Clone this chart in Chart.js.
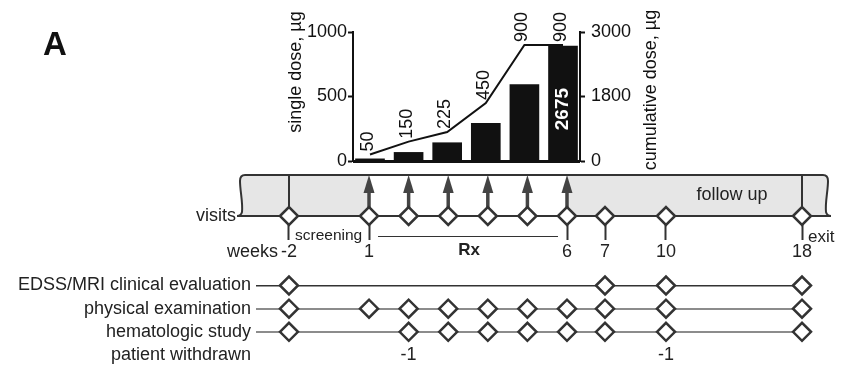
<!DOCTYPE html>
<html>
<head>
<meta charset="utf-8">
<script src="https://cdn.jsdelivr.net/npm/chart.js@4.4.1/dist/chart.umd.min.js"></script>
<style>
  html, body { margin: 0; padding: 0; background: #fff; }
  #wrap { position: relative; width: 847px; height: 375px; }
  #wrap canvas { position: absolute; left: 0; top: 0; }
</style>
</head>
<body>
<div id="wrap">
  <canvas id="timeline" width="847" height="375"></canvas>
  <canvas id="dose" width="847" height="375"></canvas>
</div>
<script>
// dose escalation (top panel)
const doseWeeks = [1, 2, 3, 4, 5, 6];
const singleDose = [50, 150, 225, 450, 900, 900];
const cumulativeDose = [50, 200, 425, 875, 1775, 2675];
const singleTicks = [0, 500, 1000];
const cumulativeTicks = [0, 1500, 3000];
const cumulativeTickLabels = ['0', '1800', '3000'];

// study schedule (bottom panel)
const visitWeeks = [-2, 1, 2, 3, 4, 5, 6, 7, 10, 18];
const edssWeeks = [-2, 7, 10, 18];
const physicalWeeks = [-2, 1, 2, 3, 4, 5, 6, 7, 10, 18];
const hematologyWeeks = [-2, 2, 3, 4, 5, 6, 7, 10, 18];
const withdrawnWeeks = [2, 10];
const withdrawnCounts = [-1, -1];
const weekTicks = [-2, 1, 6, 7, 10, 18];
const rowLabels = ['visits', '', '', 'EDSS/MRI clinical evaluation', 'physical examination', 'hematologic study', 'patient withdrawn'];

const FONT = '"Liberation Sans", Arial, sans-serif';
Chart.defaults.font.family = FONT;
Chart.defaults.color = '#222';

// the week axis is compressed outside the treatment period, so map it piecewise
const timelineStops = [[-2, 0.0604], [1, 0.207], [6, 0.5696], [7, 0.6392], [10, 0.7509], [18, 1]];

class TimelineScale extends Chart.LinearScale {
  getPixelForValue(value) {
    if (value === null || value === undefined || isNaN(value)) return NaN;
    let i = 0;
    while (i < timelineStops.length - 2 && value > timelineStops[i + 1][0]) i++;
    const [w0, d0] = timelineStops[i];
    const [w1, d1] = timelineStops[i + 1];
    return this.getPixelForDecimal(d0 + (value - w0) / (w1 - w0) * (d1 - d0));
  }
}
TimelineScale.id = 'timeline';
TimelineScale.defaults = Chart.LinearScale.defaults;
Chart.register(TimelineScale);

function row(weeks, r) {
  return {
    data: weeks.map((w) => ({ x: w, y: r })),
    pointStyle: 'rectRot',
    pointRadius: 9,
    pointHoverRadius: 9,
    pointBorderWidth: 2.5,
    pointBorderColor: '#333',
    pointBackgroundColor: '#fff',
    clip: false,
  };
}

function edgePath(ctx, x0, top, base, dir) {
  // wavy cut edge of the band, dir = 1 on the left, -1 on the right
  ctx.lineTo(x0 + 4 * dir, top);
  ctx.quadraticCurveTo(x0 - dir, top, x0 - dir, top + 6);
  ctx.bezierCurveTo(x0 - dir, top + 16, x0 + 2 * dir, base - 14, x0 + dir, base - 4);
  ctx.quadraticCurveTo(x0, base, x0 - 4 * dir, base);
}

const timelineDecor = {
  id: 'timelineDecor',
  beforeDatasetsDraw(chart) {
    const { ctx, scales: { x, y } } = chart;
    const top = 175;
    const base = y.getPixelForValue(0);
    const xl = 241, xr = 827;
    const x1 = x.getPixelForValue(doseWeeks[0]);
    const x6 = x.getPixelForValue(doseWeeks[doseWeeks.length - 1]);
    ctx.save();

    ctx.fillStyle = '#e6e6e6';
    ctx.beginPath();
    ctx.moveTo(x1, top);
    edgePath(ctx, xl, top, base, 1);
    ctx.lineTo(x1, base);
    ctx.closePath();
    ctx.fill();
    ctx.beginPath();
    ctx.moveTo(x6, top);
    edgePath(ctx, xr, top, base, -1);
    ctx.lineTo(x6, base);
    ctx.closePath();
    ctx.fill();

    ctx.strokeStyle = '#333';
    ctx.lineWidth = 2;
    ctx.beginPath();
    ctx.moveTo(xl + 4, top);
    ctx.lineTo(xr - 4, top);
    ctx.moveTo(xl - 4, base);
    ctx.lineTo(xr + 4, base);
    ctx.stroke();
    ctx.beginPath();
    ctx.moveTo(xl + 4, top);
    edgePath(ctx, xl, top, base, 1);
    ctx.stroke();
    ctx.beginPath();
    ctx.moveTo(xr - 4, top);
    edgePath(ctx, xr, top, base, -1);
    ctx.stroke();
    [visitWeeks[0], visitWeeks[visitWeeks.length - 1]].forEach((w) => {
      const px = x.getPixelForValue(w);
      ctx.beginPath();
      ctx.moveTo(px, top);
      ctx.lineTo(px, base);
      ctx.stroke();
    });

    // dosing arrows
    ctx.strokeStyle = '#444';
    ctx.fillStyle = '#444';
    ctx.lineWidth = 3.5;
    doseWeeks.forEach((w) => {
      const px = x.getPixelForValue(w);
      ctx.beginPath();
      ctx.moveTo(px, base - 6);
      ctx.lineTo(px, top + 14);
      ctx.stroke();
      ctx.beginPath();
      ctx.moveTo(px, top);
      ctx.lineTo(px - 5.5, top + 18);
      ctx.lineTo(px + 5.5, top + 18);
      ctx.closePath();
      ctx.fill();
    });

    // Rx bracket
    ctx.strokeStyle = '#333';
    ctx.lineWidth = 1;
    ctx.beginPath();
    ctx.moveTo(x1 + 9, 236.5);
    ctx.lineTo(x6 - 9, 236.5);
    ctx.stroke();
    ctx.restore();
  },
  afterDraw(chart) {
    const { ctx, scales: { x, y } } = chart;
    const base = y.getPixelForValue(0);
    const x1 = x.getPixelForValue(doseWeeks[0]);
    const x6 = x.getPixelForValue(doseWeeks[doseWeeks.length - 1]);
    ctx.save();
    ctx.fillStyle = '#222';
    ctx.textBaseline = 'middle';

    ctx.font = '18px ' + FONT;
    ctx.textAlign = 'right';
    ctx.fillText(rowLabels[0], 236, base);
    ctx.fillText('weeks', x.getPixelForValue(visitWeeks[0]) - 11, 252);
    ctx.textAlign = 'center';
    ctx.fillText('follow up', 732, 195);
    withdrawnWeeks.forEach((w, i) => {
      ctx.fillText(String(withdrawnCounts[i]), x.getPixelForValue(w), y.getPixelForValue(6));
    });

    ctx.font = '15.5px ' + FONT;
    ctx.textAlign = 'left';
    ctx.fillText('screening', x.getPixelForValue(visitWeeks[0]) + 6, 236);
    ctx.font = '17px ' + FONT;
    ctx.fillText('exit', x.getPixelForValue(visitWeeks[visitWeeks.length - 1]) + 6, 237);

    ctx.font = 'bold 17px ' + FONT;
    ctx.textAlign = 'center';
    ctx.fillText('Rx', (x1 + x6) / 2 + 1, 250);

    ctx.font = 'bold 33px ' + FONT;
    ctx.textAlign = 'left';
    ctx.textBaseline = 'alphabetic';
    ctx.fillStyle = '#111';
    ctx.fillText('A', 43, 55);
    ctx.restore();
  },
};

new Chart(document.getElementById('timeline'), {
  type: 'scatter',
  data: {
    datasets: [
      row(visitWeeks, 0),
      row(edssWeeks, 3),
      row(physicalWeeks, 4),
      row(hematologyWeeks, 5),
    ],
  },
  options: {
    responsive: false,
    animation: false,
    layout: { padding: { left: 0, right: 45, top: 216, bottom: 20 } },
    plugins: { legend: { display: false }, tooltip: { enabled: false } },
    scales: {
      x: {
        type: 'timeline',
        min: -2,
        max: 18,
        position: { y: 0 },
        afterBuildTicks: (s) => { s.ticks = weekTicks.map((v) => ({ value: v })); },
        border: { display: false },
        grid: { drawOnChartArea: false, tickLength: 24, tickColor: '#333', tickWidth: 2 },
        ticks: {
          autoSkip: false,
          maxRotation: 0,
          padding: 1,
          color: '#222',
          font: { size: 18 },
          callback: (v, i) => String(weekTicks[i]),
        },
      },
      y: {
        min: 0,
        max: 6,
        reverse: true,
        afterBuildTicks: (s) => { s.ticks = rowLabels.map((_, i) => ({ value: i })); },
        afterFit: (s) => { s.width = 256; },
        border: { display: false },
        grid: {
          drawTicks: false,
          color: (c) => (c.tick && c.tick.value === 3 ? '#333'
            : c.tick && (c.tick.value === 4 || c.tick.value === 5) ? '#8c8c8c' : 'rgba(0,0,0,0)'),
          lineWidth: (c) => (c.tick && c.tick.value === 3 ? 1.5 : 2),
        },
        ticks: {
          autoSkip: false,
          padding: 5,
          color: '#222',
          font: { size: 18 },
          callback: (v, i) => (i === 0 ? '' : rowLabels[i]),
        },
      },
    },
  },
  plugins: [timelineDecor],
});

const doseLabels = {
  id: 'doseLabels',
  beforeDatasetsDraw(chart) {
    // thick baseline under the bars
    const { ctx, chartArea } = chart;
    ctx.save();
    ctx.strokeStyle = '#111';
    ctx.lineWidth = 3;
    ctx.beginPath();
    ctx.moveTo(chartArea.left, chartArea.bottom + 0.5);
    ctx.lineTo(chartArea.right, chartArea.bottom + 0.5);
    ctx.stroke();
    ctx.restore();
  },
  afterDatasetsDraw(chart) {
    const { ctx, scales: { x, y, y1 } } = chart;
    ctx.save();
    ctx.fillStyle = '#111';
    ctx.textBaseline = 'middle';
    ctx.font = '18px ' + FONT;
    doseWeeks.forEach((w, i) => {
      ctx.save();
      ctx.translate(x.getPixelForValue(w) - 2, y.getPixelForValue(singleDose[i]) - 3);
      ctx.rotate(-Math.PI / 2);
      ctx.textAlign = 'left';
      ctx.fillText(String(singleDose[i]), 0, 0);
      ctx.restore();
    });

    const last = doseWeeks.length - 1;
    ctx.save();
    ctx.translate(x.getPixelForValue(doseWeeks[last]), y1.getPixelForValue(cumulativeDose[last]) + 42);
    ctx.rotate(-Math.PI / 2);
    ctx.textAlign = 'right';
    ctx.fillStyle = '#fff';
    ctx.font = 'bold 19px ' + FONT;
    ctx.fillText(String(cumulativeDose[last]), 0, 0);
    ctx.restore();

    // axis titles
    ctx.font = '18px ' + FONT;
    ctx.textAlign = 'center';
    ctx.save();
    ctx.translate(296, 72);
    ctx.rotate(-Math.PI / 2);
    ctx.fillText('single dose, µg', 0, 0);
    ctx.restore();
    ctx.save();
    ctx.translate(651, 90);
    ctx.rotate(-Math.PI / 2);
    ctx.fillText('cumulative dose, µg', 0, 0);
    ctx.restore();
    ctx.restore();
  },
};

new Chart(document.getElementById('dose'), {
  type: 'bar',
  data: {
    datasets: [
      {
        type: 'line',
        data: doseWeeks.map((w, i) => ({ x: w, y: singleDose[i] })),
        yAxisID: 'y',
        borderColor: '#111',
        borderWidth: 2,
        pointRadius: 0,
        tension: 0,
      },
      {
        type: 'bar',
        data: doseWeeks.map((w, i) => ({ x: w, y: cumulativeDose[i] })),
        yAxisID: 'y1',
        backgroundColor: '#111',
        barThickness: 29,
      },
    ],
  },
  options: {
    responsive: false,
    animation: false,
    layout: { padding: { left: 293, right: 187, top: 32, bottom: 214 } },
    plugins: { legend: { display: false }, tooltip: { enabled: false } },
    scales: {
      x: {
        type: 'linear',
        min: 0.56,
        max: 6.44,
        offset: false,
        afterFit: (s) => { s.height = 0; },
        ticks: { display: false },
        grid: { display: false },
        border: { display: false },
      },
      y: {
        position: 'left',
        min: 0,
        max: 1000,
        afterBuildTicks: (s) => { s.ticks = singleTicks.map((v) => ({ value: v })); },
        afterFit: (s) => { s.width = 60; },
        border: { color: '#111', width: 2 },
        grid: { drawOnChartArea: false, tickLength: 5, tickColor: '#111', tickWidth: 2 },
        ticks: { padding: 1, color: '#111', font: { size: 18 }, callback: (v) => String(v) },
      },
      y1: {
        position: 'right',
        min: 0,
        max: 3000,
        afterBuildTicks: (s) => { s.ticks = cumulativeTicks.map((v) => ({ value: v })); },
        afterFit: (s) => { s.width = 80; },
        border: { color: '#111', width: 2 },
        grid: { drawOnChartArea: false, tickLength: 5, tickColor: '#111', tickWidth: 2 },
        ticks: { padding: 6, color: '#111', font: { size: 18 }, callback: (v, i) => cumulativeTickLabels[i] },
      },
    },
  },
  plugins: [doseLabels],
});
</script>
</body>
</html>
